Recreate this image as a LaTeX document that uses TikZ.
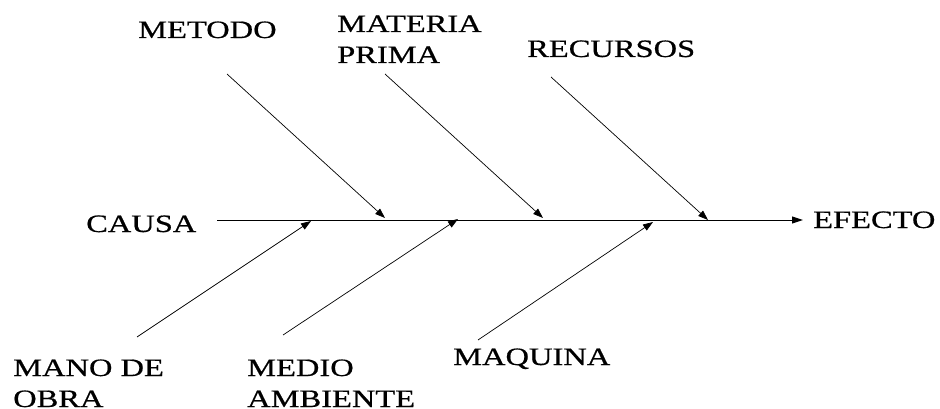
\documentclass[tikz,border=0pt]{standalone}
\usepackage{fontspec}
\setmainfont{Liberation Serif}[FakeStretch=1.3,FakeBold=0.6]
\usetikzlibrary{arrows.meta}
\begin{document}
\begin{tikzpicture}[x=1pt,y=-1pt,
  lbl/.style={inner sep=0pt,anchor=base west,align=left,font=\fontsize{25}{31}\selectfont},
  spine/.style={line width=1pt,-{Triangle[length=11pt,width=7pt]}},
  bone/.style={line width=0.7pt,-{Triangle[length=10pt,width=7pt]}}]
\useasboundingbox (0,0) rectangle (940,409);
% labels (multi-line labels anchored at the baseline of their last line)
\node[lbl] (metodo) at (138,38) {METODO};
\node[lbl] (materia) at (337,63) {MATERIA\\PRIMA};
\node[lbl] (recursos) at (527,57) {RECURSOS};
\node[lbl] (causa) at (86,232) {CAUSA};
\node[lbl] (efecto) at (813,228) {EFECTO};
\node[lbl] (mano) at (13,407) {MANO DE\\OBRA};
\node[lbl] (medio) at (247,407) {MEDIO\\AMBIENTE};
\node[lbl] (maquina) at (453,365) {MAQUINA};
% spine
\coordinate (s0) at (217,220);
\coordinate (s1) at (803,220);
\draw[spine] (s0) -- (s1);
% top bones
\coordinate (b1s) at (227,74);  \coordinate (b1e) at (385,218);
\coordinate (b2s) at (385,74);  \coordinate (b2e) at (543,218);
\coordinate (b3s) at (551,77);  \coordinate (b3e) at (708,220);
\draw[bone] (b1s) -- (b1e);
\draw[bone] (b2s) -- (b2e);
\draw[bone] (b3s) -- (b3e);
% bottom bones
\coordinate (b4s) at (137,337); \coordinate (b4e) at (311,221);
\coordinate (b5s) at (283,335); \coordinate (b5e) at (458,219);
\coordinate (b6s) at (478,340); \coordinate (b6e) at (653,222);
\draw[bone] (b4s) -- (b4e);
\draw[bone] (b5s) -- (b5e);
\draw[bone] (b6s) -- (b6e);
\end{tikzpicture}
\end{document}
